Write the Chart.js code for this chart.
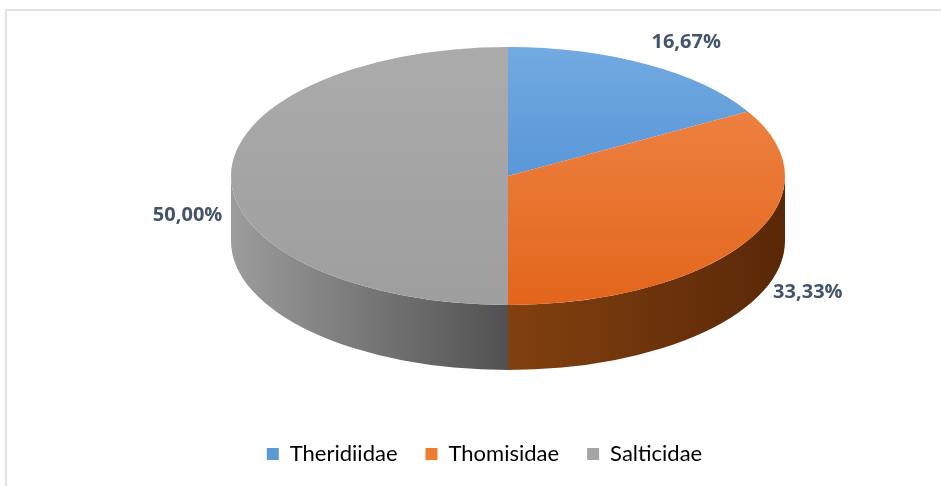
<!DOCTYPE html>
<html>
<head>
<meta charset="utf-8">
<title>Spider families</title>
<script src="https://cdn.jsdelivr.net/npm/chart.js@4.4.1/dist/chart.umd.min.js"></script>
<style>
  html, body { margin: 0; padding: 0; background: #fff; }
  #wrap { width: 941px; height: 486px; }
</style>
</head>
<body>
<div id="wrap"><canvas id="pieChart" width="941" height="486"></canvas></div>
<script>
const families = ['Theridiidae', 'Thomisidae', 'Salticidae'];
const shares = [16.67, 33.33, 50.00];

// colours: top face (top -> bottom), side wall (left -> right), legend swatch
const topColors = [['#72AAE1', '#4084CE'], ['#F08A4C', '#E3651B'], ['#ABABAB', '#9E9E9E']];
const sideColors = [['#3A6FA8', '#244C78'], ['#82410F', '#5A2808'], ['#9C9C9C', '#515151']];
const legendColors = ['#5B9BD5', '#ED7D31', '#A5A5A5'];

// tilted pie: centre, half axes of the top face and wall height
const view = { cx: 508, cy: 176, rx: 277, ry: 129, depth: 65 };
const textColor = '#44546A';

function pctLabel(v) {
  return v.toFixed(2).replace('.', ',') + '%';
}

const pie3d = {
  id: 'pie3d',
  beforeDraw(chart) {
    const ctx = chart.ctx;
    ctx.save();
    ctx.fillStyle = '#fff';
    ctx.fillRect(0, 0, chart.width, chart.height);
    // thin frame, top and left
    ctx.strokeStyle = '#DDE3EC';
    ctx.lineWidth = 2;
    ctx.beginPath();
    ctx.moveTo(6, chart.height);
    ctx.lineTo(6, 10);
    ctx.lineTo(chart.width, 10);
    ctx.stroke();
    ctx.restore();
  },
  beforeDatasetsDraw(chart) {
    const ctx = chart.ctx;
    const arcs = chart.getDatasetMeta(0).data;

    // side walls, only the front half (0..PI) shows
    arcs.forEach((arc, i) => {
      const { startAngle, endAngle } = arc.getProps(['startAngle', 'endAngle'], true);
      const a0 = Math.max(startAngle, 0);
      const a1 = Math.min(endAngle, Math.PI);
      if (a0 >= a1) return;
      const xa = view.cx + view.rx * Math.cos(a0);
      const xb = view.cx + view.rx * Math.cos(a1);
      const g = ctx.createLinearGradient(Math.min(xa, xb), 0, Math.max(xa, xb), 0);
      g.addColorStop(0, sideColors[i][0]);
      g.addColorStop(1, sideColors[i][1]);
      ctx.beginPath();
      ctx.ellipse(view.cx, view.cy, view.rx, view.ry, 0, a0, a1);
      ctx.ellipse(view.cx, view.cy + view.depth, view.rx, view.ry, 0, a1, a0, true);
      ctx.closePath();
      ctx.fillStyle = g;
      ctx.fill();
    });

    // squash the round pie into the tilted top face
    const first = arcs[0];
    const r = first.outerRadius;
    ctx.save();
    ctx.translate(view.cx, view.cy);
    ctx.scale(view.rx / r, view.ry / r);
    ctx.translate(-first.x, -first.y);
  },
  afterDatasetsDraw(chart) {
    const ctx = chart.ctx;
    ctx.restore();

    // percentage labels outside the slices
    const arcs = chart.getDatasetMeta(0).data;
    ctx.save();
    ctx.font = 'bold 20px "Open Sans", Lato, sans-serif';
    ctx.fillStyle = textColor;
    ctx.textAlign = 'center';
    ctx.textBaseline = 'middle';
    arcs.forEach((arc, i) => {
      const { startAngle, endAngle } = arc.getProps(['startAngle', 'endAngle'], true);
      const mid = (startAngle + endAngle) / 2;
      const s = Math.sin(mid);
      // front labels drop to the middle of the wall
      const drop = view.depth * 0.6 * Math.min(1, Math.max(0, 1 + 1.15 * s));
      const x = view.cx + 12 + view.rx * 1.2 * Math.cos(mid);
      const y = view.cy + view.ry * 1.2 * s + drop;
      ctx.fillText(pctLabel(chart.data.datasets[0].data[i]), x, y);
    });
    ctx.restore();
  }
};

const ctx = document.getElementById('pieChart').getContext('2d');
const chart = new Chart(ctx, {
  type: 'pie',
  data: {
    labels: families,
    datasets: [{
      data: shares,
      borderWidth: 0,
      clip: false,
      backgroundColor: (c) => {
        const area = c.chart.chartArea;
        const stops = topColors[c.dataIndex % topColors.length];
        if (!area) return stops[0];
        const g = c.chart.ctx.createLinearGradient(0, area.top, 0, area.bottom);
        g.addColorStop(0, stops[0]);
        g.addColorStop(1, stops[1]);
        return g;
      }
    }]
  },
  options: {
    responsive: false,
    devicePixelRatio: 1,
    animation: false,
    layout: { padding: { left: 28, right: 0, top: 20, bottom: 11 } },
    plugins: {
      tooltip: { enabled: false },
      legend: {
        position: 'bottom',
        labels: {
          boxWidth: 12,
          boxHeight: 12,
          padding: 28,
          color: textColor,
          font: { family: 'Lato, "Open Sans", sans-serif', size: 22 },
          generateLabels: () => families.map((name, i) => ({
            text: name,
            fillStyle: legendColors[i],
            strokeStyle: legendColors[i],
            lineWidth: 0,
            hidden: false,
            index: i
          }))
        }
      }
    }
  },
  plugins: [pie3d]
});
</script>
</body>
</html>
